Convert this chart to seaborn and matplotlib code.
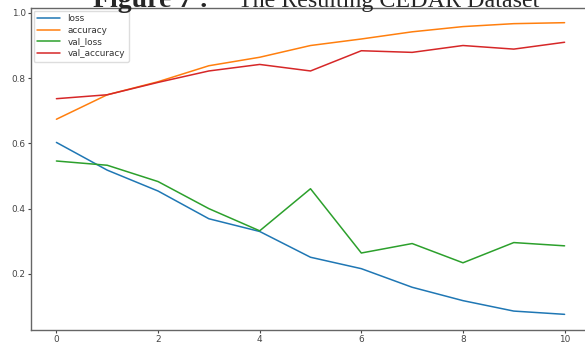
import matplotlib
matplotlib.use("Agg")
import matplotlib.pyplot as plt
import pandas as pd
import seaborn as sns

# Training history per epoch
epochs = list(range(11))
loss = [0.603, 0.518, 0.454, 0.369, 0.330, 0.251, 0.216, 0.159, 0.118, 0.086, 0.076]
accuracy = [0.674, 0.749, 0.789, 0.838, 0.864, 0.900, 0.920, 0.942, 0.958, 0.967, 0.970]
val_loss = [0.546, 0.533, 0.483, 0.400, 0.332, 0.461, 0.264, 0.293, 0.234, 0.296, 0.286]
val_accuracy = [0.737, 0.749, 0.787, 0.822, 0.842, 0.822, 0.884, 0.879, 0.900, 0.889, 0.910]
series_names = ["loss", "accuracy", "val_loss", "val_accuracy"]
x_ticks = [0, 2, 4, 6, 8, 10]
y_ticks = [0.2, 0.4, 0.6, 0.8, 1.0]

history = pd.DataFrame({
    "epoch": epochs * 4,
    "value": loss + accuracy + val_loss + val_accuracy,
    "metric": [n for n in series_names for _ in epochs],
})

sns.set_style("white")
plt.rcParams["font.family"] = ["DejaVu Sans"]

W, H = 585, 343
fig = plt.figure(figsize=(W / 100, H / 100), dpi=100)
ax = fig.add_axes([31 / W, 1 - 330 / H, 559 / W, 322 / H])

palette = ["#1f77b4", "#ff7f0e", "#2ca02c", "#d62728"]
sns.lineplot(data=history, x="epoch", y="value", hue="metric",
             hue_order=series_names, palette=palette, linewidth=1.1, ax=ax)

ax.set_xlabel("")
ax.set_ylabel("")
ax.set_xticks(x_ticks)
ax.set_yticks(y_ticks)
ax.set_xlim(-0.5, 10.5)
ax.set_ylim(0.028, 1.015)
ax.tick_params(axis="both", labelsize=6.4, colors="#444444", length=2.5, width=0.8,
               direction="out", left=True, bottom=True, pad=1.2)
for side in ax.spines.values():
    side.set_color("#666666")
    side.set_linewidth(1.0)

handles, labels = ax.get_legend_handles_labels()
ax.legend(handles, labels, loc="upper left", fontsize=6.4, frameon=True,
          edgecolor="#dddddd", framealpha=1.0, borderaxespad=0.3,
          labelspacing=0.3, handlelength=2.6, labelcolor="#333333")

# Caption across the top edge
baseline = 1 - 7 / H
fig.text(93 / W, baseline, "Figure 7 :", fontsize=20, fontweight="bold",
         family="Liberation Serif", ha="left", va="baseline")
fig.text(238 / W, baseline, "The Resulting CEDAR Dataset", fontsize=17.3,
         family="Liberation Serif", ha="left", va="baseline")

fig.savefig("out.png", dpi=100)
